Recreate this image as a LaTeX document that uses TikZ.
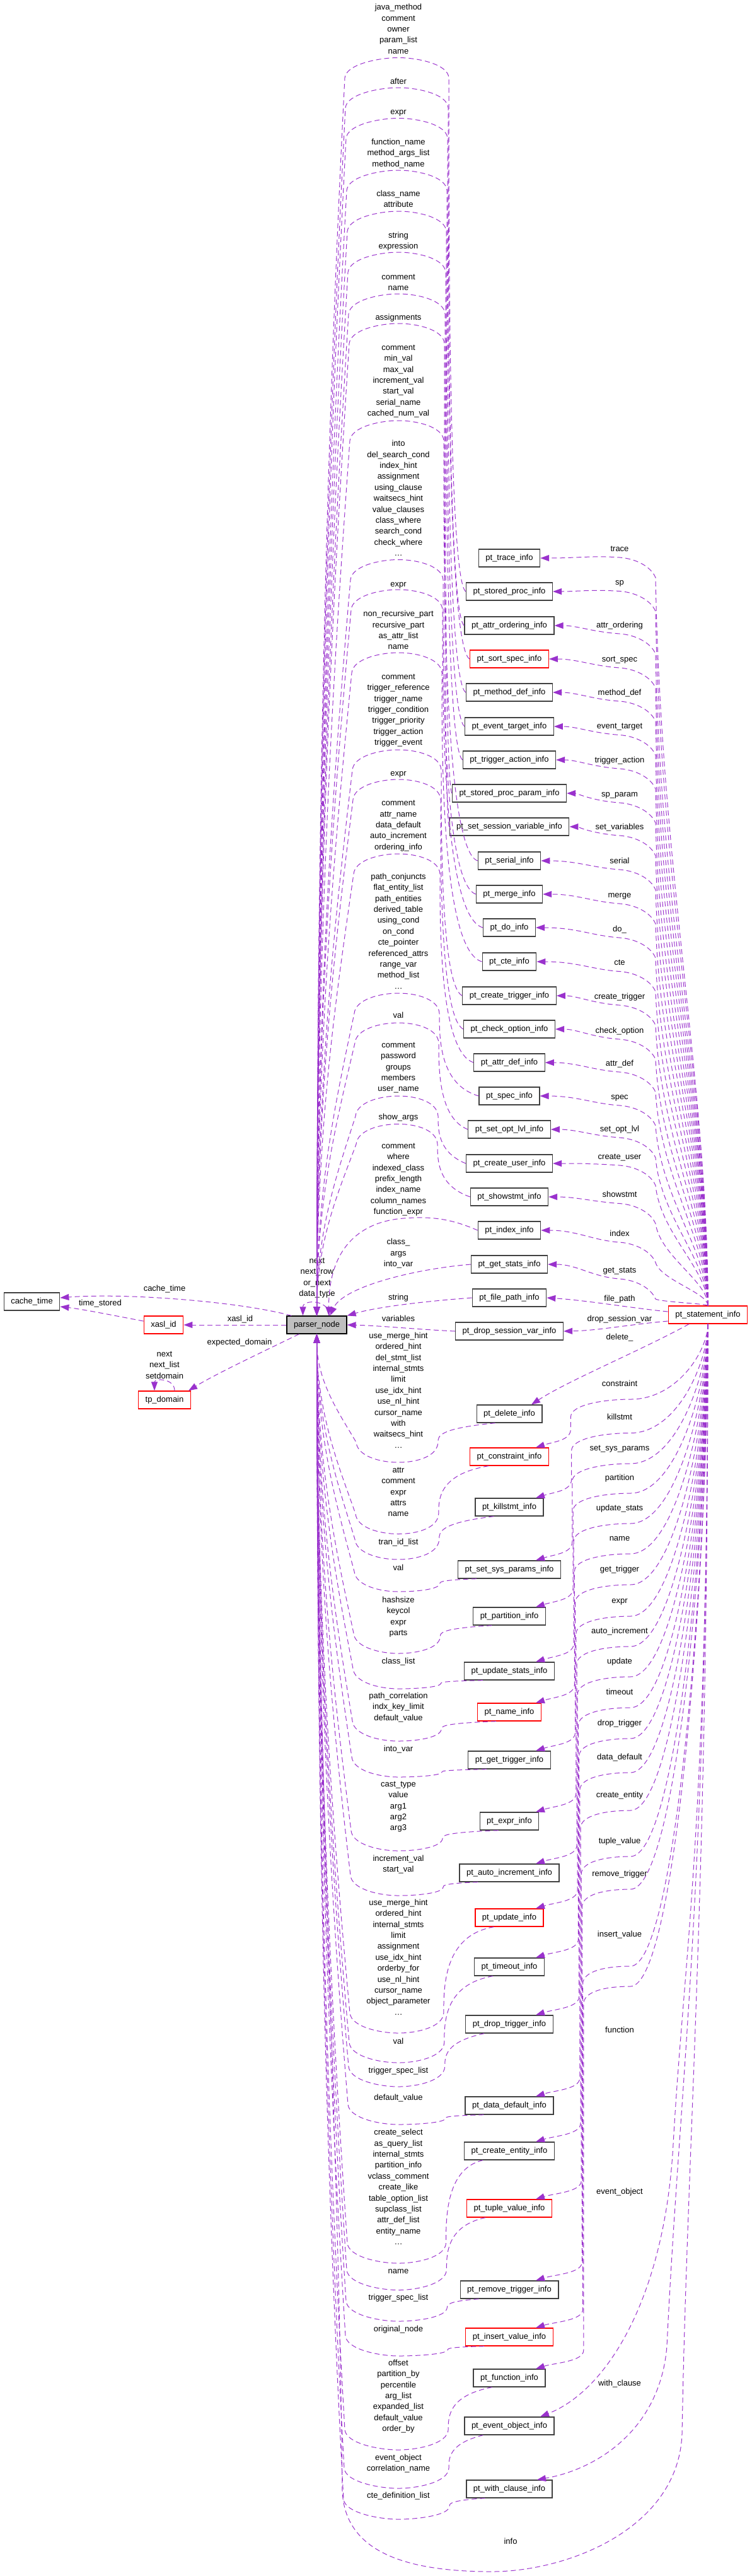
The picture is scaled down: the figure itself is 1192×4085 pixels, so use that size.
\documentclass[tikz,border=0pt]{standalone}
\usepackage{fontspec}
\setmainfont{Liberation Sans}
\usetikzlibrary{arrows.meta}
\definecolor{edgec}{HTML}{9A32CD}
\definecolor{boxline}{HTML}{404040}
\definecolor{pnfill}{HTML}{BFBFBF}

% upper-left edge: box -> arch over label group -> parser_node top
\newcommand\ULedge[4]{%
  \pgfmathsetmacro\qxR{712-(#4-1)}%
  \pgfmathsetmacro\qfx{566-(20-#4)}%
  \pgfmathsetmacro\qyF{#3+32}%
  \pgfmathsetmacro\qD{#2-\qyF}%
  \pgfmathsetmacro\qca{#2-min(18,0.3*\qD)}%
  \pgfmathsetmacro\qcb{\qyF+0.3*\qD}%
  \pgfmathsetmacro\qL{2087-\qyF}%
  \pgfmathsetmacro\qcc{\qyF+0.25*\qL}%
  \pgfmathsetmacro\qcd{\qyF+0.55*\qL}%
  \draw[edge] (#1.west) .. controls (\qxR,\qca) and (\qxR,\qcb) .. (\qxR,\qyF)
    .. controls (\qxR-1,#3+10) and (662,#3) .. (632,#3)
    .. controls (602,#3) and (\qfx+2,#3+10) .. (\qfx,\qyF)
    .. controls (\qfx-25,\qcc) and (503,\qcd) .. (pn.north);
}
% lower-left edge: box -> U under label group -> parser_node bottom
\newcommand\LLedge[4]{%
  \pgfmathsetmacro\qxR{694+0.9*#4}%
  \pgfmathsetmacro\qfx{566-#4}%
  \pgfmathsetmacro\qys{#2+14}%
  \pgfmathsetmacro\qf{min(32,max(8,0.6*(#3-\qys)))}%
  \pgfmathsetmacro\qyF{#3-\qf}%
  \pgfmathsetmacro\qD{\qyF-\qys}%
  \pgfmathsetmacro\qca{\qys+min(14,max(2,0.3*\qD))}%
  \pgfmathsetmacro\qcb{\qyF-0.3*\qD}%
  \pgfmathsetmacro\qyA{#3-32}%
  \pgfmathsetmacro\qL{\qyA-2115}%
  \pgfmathsetmacro\qcc{\qyA-0.25*\qL}%
  \pgfmathsetmacro\qcd{\qyA-0.55*\qL}%
  \pgfmathsetmacro\qcy{#3-0.3*\qf}%
  \draw[edge] ([xshift=30pt]#1.south west) .. controls (\qxR,\qca) and (\qxR,\qcb) .. (\qxR,\qyF)
    .. controls (\qxR-1,\qcy) and (662,#3) .. (632,#3)
    .. controls (602,#3) and (\qfx+2,#3-10) .. (\qfx,\qyA)
    .. controls (\qfx-25,\qcc) and (503,\qcd) .. (pn.south);
}
% upper-right edge: pt_statement_info top -> box east
\newcommand\URedge[3]{%
  \pgfmathsetmacro\qyQ{#3+45}%
  \pgfmathsetmacro\qM{2071-\qyQ}%
  \draw[edge] (stmt.north) .. controls (1123,{2071-0.3*\qM}) and (1048,{\qyQ+0.4*\qM}) .. (1040,\qyQ)
    .. controls (1033,{#3+28}) and (1010,{#3+15}) .. (983,{#3+13})
    .. controls (940,{#3+10}) and (915,#2) .. (#1.east);
}
% lower-right edge: pt_statement_info bottom -> box top
\newcommand\LRedge[4]{%
  \pgfmathsetmacro\qxd{903+1.2*#4}%
  \pgfmathsetmacro\qyT{#2-14}%
  \draw[edge] (stmt.south) .. controls (1123,{2099+0.35*(#3-2099)}) and (1075,#3) .. (1000,#3)
    .. controls (960,#3) and (\qxd,{#3+8}) .. (\qxd,{#3+28})
    -- (\qxd,{\qyT-30}) .. controls (\qxd,{\qyT-12}) and (880,{\qyT-10}) .. ([xshift=42pt]#1.north);
}
% label group in the middle column
\newcommand\LG[3]{%
  \foreach \t [count=\i] in {#3} {\node[lab] (g#1l\i) at (632,{#2+(\i-1)*17.4}) {\t};}%
}

\begin{document}
\begin{tikzpicture}[x=1pt,y=-1pt,
  every node/.style={font=\fontsize{13}{16}\selectfont},
  box/.style={draw=boxline,line width=1.3pt,fill=white,minimum height=28pt,inner xsep=11pt,inner ysep=0pt,text height=9.5pt,text depth=3pt},
  redbox/.style={box,draw=red},
  lab/.style={inner sep=0pt,text height=9.5pt,text depth=3pt},
  edge/.style={draw=edgec,line width=1pt,dash pattern=on 8pt off 5pt,-{Triangle[length=14pt,width=10pt]}}]

\fill[white] (0,0) rectangle (1192,4085);
\useasboundingbox (0,0) rectangle (1192,4085);

% ---------- nodes ----------
\node[box,fill=pnfill,draw=black] (pn) at (502.5,2101) {parser\_node};
\node[box] (ct) at (50.5,2064) {cache\_time};
\node[redbox] (xasl) at (259.5,2101) {xasl\_id};
\node[redbox] (tp) at (261,2220) {tp\_domain};
\node[redbox] (stmt) at (1123,2085) {pt\_statement\_info};

\foreach \n/\t/\y/\s in {tr/pt\_trace\_info/885/box,spi/pt\_stored\_proc\_info/938/box,ao/pt\_attr\_ordering\_info/992/box,ss/pt\_sort\_spec\_info/1045/redbox,md/pt\_method\_def\_info/1098/box,et/pt\_event\_target\_info/1152/box,ta/pt\_trigger\_action\_info/1205/box,spp/pt\_stored\_proc\_param\_info/1258/box,ssv/pt\_set\_session\_variable\_info/1311/box,ser/pt\_serial\_info/1365/box,mrg/pt\_merge\_info/1418/box,doi/pt\_do\_info/1471/box,cte/pt\_cte\_info/1525/box,ctr/pt\_create\_trigger\_info/1579/box,co/pt\_check\_option\_info/1632/box,ad/pt\_attr\_def\_info/1685/box,spec/pt\_spec\_info/1738/box,sol/pt\_set\_opt\_lvl\_info/1791/box,cu/pt\_create\_user\_info/1845/box,show/pt\_showstmt\_info/1898/box,idx/pt\_index\_info/1951/box,gs/pt\_get\_stats\_info/2005/box,fp/pt\_file\_path\_info/2058/box,dsv/pt\_drop\_session\_var\_info/2111/box,del/pt\_delete\_info/2242/box,cons/pt\_constraint\_info/2310/redbox,kill/pt\_killstmt\_info/2390/box,ssp/pt\_set\_sys\_params\_info/2489/box,part/pt\_partition\_info/2563/box,us/pt\_update\_stats\_info/2650/box,nm/pt\_name\_info/2715/redbox,gt/pt\_get\_trigger\_info/2791/box,ex/pt\_expr\_info/2888/box,ai/pt\_auto\_increment\_info/2970/box,upd/pt\_update\_info/3041/redbox,tmo/pt\_timeout\_info/3119/box,dt/pt\_drop\_trigger\_info/3210/box,dd/pt\_data\_default\_info/3339/box,ce/pt\_create\_entity\_info/3411/box,tv/pt\_tuple\_value\_info/3502/redbox,rt/pt\_remove\_trigger\_info/3631/box,iv/pt\_insert\_value\_info/3706/redbox,fn/pt\_function\_info/3771/box,eo/pt\_event\_object\_info/3847/box,wc/pt\_with\_clause\_info/3947/box}
 {\node[\s] (\n) at (808,\y) {\t};}

% ---------- middle column labels ----------
\LG{1}{12.5}{java\_method,comment,owner,param\_list,name}
\LG{2}{130.4}{after}
\LG{3}{178.6}{expr}
\LG{4}{226}{function\_name,method\_args\_list,method\_name}
\LG{5}{308}{class\_name,attribute}
\LG{6}{374}{string,expression}
\LG{7}{440}{comment,name}
\LG{8}{504.5}{assignments}
\LG{9}{552}{comment,min\_val,max\_val,increment\_val,start\_val,serial\_name,cached\_num\_val}
\LG{10}{704.5}{into,del\_search\_cond,index\_hint,assignment,using\_clause,waitsecs\_hint,value\_clauses,class\_where,search\_cond,check\_where,\ldots}
\LG{11}{927}{expr}
\LG{12}{974.5}{non\_recursive\_part,recursive\_part,as\_attr\_list,name}
\LG{13}{1074}{comment,trigger\_reference,trigger\_name,trigger\_condition,trigger\_priority,trigger\_action,trigger\_event}
\LG{14}{1227}{expr}
\LG{15}{1274.5}{comment,attr\_name,data\_default,auto\_increment,ordering\_info}
\LG{16}{1391}{path\_conjuncts,flat\_entity\_list,path\_entities,derived\_table,using\_cond,on\_cond,cte\_pointer,referenced\_attrs,range\_var,method\_list,\ldots}
\LG{17}{1611}{val}
\LG{18}{1658}{comment,password,groups,members,user\_name}
\LG{19}{1772}{show\_args}
\LG{20}{1818}{comment,where,indexed\_class,prefix\_length,index\_name,column\_names,function\_expr}
\LG{21}{1970.5}{class\_,args,into\_var}
\LG{22}{2058}{string}
\LG{23}{2092}{variables}
\LG{24}{2119}{use\_merge\_hint,ordered\_hint,del\_stmt\_list,internal\_stmts,limit,use\_idx\_hint,use\_nl\_hint,cursor\_name,with,waitsecs\_hint,\ldots}
\LG{25}{2332}{attr,comment,expr,attrs,name}
\LG{26}{2446}{tran\_id\_list}
\LG{27}{2487}{val}
\LG{28}{2538}{hashsize,keycol,expr,parts}
\LG{29}{2635}{class\_list}
\LG{30}{2690}{path\_correlation,indx\_key\_limit,default\_value}
\LG{31}{2774}{into\_var}
\LG{32}{2830}{cast\_type,value,arg1,arg2,arg3}
\LG{33}{2948}{increment\_val,start\_val}
\LG{34}{3018}{use\_merge\_hint,ordered\_hint,internal\_stmts,limit,assignment,use\_idx\_hint,orderby\_for,use\_nl\_hint,cursor\_name,object\_parameter,\ldots}
\LG{35}{3238}{val}
\LG{36}{3284}{trigger\_spec\_list}
\LG{37}{3327}{default\_value}
\LG{38}{3382.5}{create\_select,as\_query\_list,internal\_stmts,partition\_info,vclass\_comment,create\_like,table\_option\_list,supclass\_list,attr\_def\_list,entity\_name,\ldots}
\LG{39}{3602}{name}
\LG{40}{3644}{trigger\_spec\_list}
\LG{41}{3694}{original\_node}
\LG{42}{3748}{offset,partition\_by,percentile,arg\_list,expanded\_list,default\_value,order\_by}
\LG{43}{3898}{event\_object,correlation\_name}
\LG{44}{3958}{cte\_definition\_list}

% ---------- right column labels ----------
\foreach \t/\y [count=\i] in {trace/871,sp/924.5,attr\_ordering/992,sort\_spec/1046,method\_def/1099,event\_target/1152.5,trigger\_action/1206,sp\_param/1260,set\_variables/1312,serial/1366,merge/1420,do\_/1474,cte/1527.5,create\_trigger/1581,check\_option/1635,attr\_def/1687,spec/1740,set\_opt\_lvl/1791,create\_user/1835,showstmt/1895.5,index/1957,get\_stats/2015,file\_path/2060,drop\_session\_var/2092,delete\_/2121,constraint/2195,killstmt/2248.5,set\_sys\_params/2297,partition/2344,update\_stats/2392,name/2440,get\_trigger/2489,expr/2539,auto\_increment/2587,update/2635,timeout/2684,drop\_trigger/2733,data\_default/2787,create\_entity/2847,tuple\_value/2920,remove\_trigger/2972,insert\_value/3068,function/3220,event\_object/3476,with\_clause/3780}
 {\node[lab] (r\i) at (983,\y) {\t};}

% ---------- other labels ----------
\node[lab] (lct) at (261,2044) {cache\_time};
\node[lab] (lts) at (159,2067) {time\_stored};
\node[lab] (lxi) at (381,2092) {xasl\_id};
\node[lab] (led) at (380,2129) {expected\_domain};
\node[lab] (tl1) at (261,2148) {next};
\node[lab] (tl2) at (261,2165.5) {next\_list};
\node[lab] (tl3) at (261,2183) {setdomain};
\node[lab] (pl1) at (503,2000) {next};
\node[lab] (pl2) at (503,2017.5) {next\_row};
\node[lab] (pl3) at (503,2035) {or\_next};
\node[lab] (pl4) at (503,2052.5) {data\_type};
\node[lab] (linfo) at (810,4031) {info};

% ---------- upper-left edges ----------
\ULedge{spi}{938}{91.5}{1}
\ULedge{ao}{992}{139}{2}
\ULedge{ss}{1045}{187.5}{3}
\ULedge{md}{1098}{270}{4}
\ULedge{et}{1152}{335}{5}
\ULedge{ta}{1205}{400}{6}
\ULedge{spp}{1258}{466}{7}
\ULedge{ssv}{1311}{513}{8}
\ULedge{ser}{1365}{667}{9}
\ULedge{mrg}{1418}{887.5}{10}
\ULedge{doi}{1471}{935}{11}
\ULedge{cte}{1525}{1035}{12}
\ULedge{ctr}{1579}{1189}{13}
\ULedge{co}{1632}{1236}{14}
\ULedge{ad}{1685}{1354}{15}
\ULedge{spec}{1738}{1575}{16}
\ULedge{sol}{1791}{1622}{17}
\ULedge{cu}{1845}{1738}{18}
\ULedge{show}{1898}{1782.5}{19}
\draw[edge] (idx.west) .. controls (712,1931) and (680,1929) .. (640,1932) .. controls (575,1937) and (521.5,1975) .. ([xshift=19pt]pn.north);
\draw[edge] (gs.west) .. controls (660,2012) and (545,2040) .. ([xshift=21pt]pn.north);
\draw[edge] (fp.west) .. controls (680,2063) and (600,2072) .. (pn.north east);
\draw[edge] (dsv.west) .. controls (660,2108) and (600,2102) .. (pn.east);

% ---------- lower-left edges ----------
\LLedge{del}{2242}{2319}{1}
\LLedge{cons}{2310}{2432.5}{2}
\LLedge{kill}{2390}{2473}{3}
\LLedge{ssp}{2489}{2524}{4}
\LLedge{part}{2563}{2622}{5}
\LLedge{us}{2650}{2678}{6}
\LLedge{nm}{2715}{2761}{7}
\LLedge{gt}{2791}{2818}{8}
\LLedge{ex}{2888}{2935}{9}
\LLedge{ai}{2970}{3006}{10}
\LLedge{upd}{3041}{3224}{11}
\LLedge{tmo}{3119}{3271}{12}
\LLedge{dt}{3210}{3309}{13}
\LLedge{dd}{3339}{3369}{14}
\LLedge{ce}{3411}{3589}{15}
\LLedge{tv}{3502}{3631.5}{16}
\LLedge{rt}{3631}{3681}{17}
\LLedge{iv}{3706}{3736}{18}
\LLedge{fn}{3771}{3885}{19}
\LLedge{eo}{3847}{3946}{20}
\LLedge{wc}{3947}{3995}{21}

% ---------- upper-right edges ----------
\URedge{tr}{885}{871}
\URedge{spi}{938}{924.5}
\URedge{ao}{992}{992}
\URedge{ss}{1045}{1046}
\URedge{md}{1098}{1099}
\URedge{et}{1152}{1152.5}
\URedge{ta}{1205}{1206}
\URedge{spp}{1258}{1260}
\URedge{ssv}{1311}{1312}
\URedge{ser}{1365}{1366}
\URedge{mrg}{1418}{1420}
\URedge{doi}{1471}{1474}
\URedge{cte}{1525}{1527.5}
\URedge{ctr}{1579}{1581}
\URedge{co}{1632}{1635}
\URedge{ad}{1685}{1687}
\URedge{spec}{1738}{1740}
\URedge{sol}{1791}{1791}
\URedge{cu}{1845}{1835}
\URedge{show}{1898}{1895.5}
\URedge{idx}{1951}{1957}
\URedge{gs}{2005}{2015}
\draw[edge] ([yshift=5pt]stmt.west) .. controls (1000,2074) and (930,2062) .. (fp.east);
\draw[edge] ([yshift=-10pt]stmt.west) .. controls (1000,2100) and (950,2110) .. (dsv.east);

% ---------- lower-right edges ----------
\draw[edge] ([xshift=-30pt]stmt.south) .. controls (1020,2140) and (900,2190) .. ([xshift=35pt]del.north);
\LRedge{cons}{2310}{2219}{2}
\LRedge{kill}{2390}{2272.5}{3}
\LRedge{ssp}{2489}{2321}{4}
\LRedge{part}{2563}{2368}{5}
\LRedge{us}{2650}{2416}{6}
\LRedge{nm}{2715}{2464}{7}
\LRedge{gt}{2791}{2513}{8}
\LRedge{ex}{2888}{2563}{9}
\LRedge{ai}{2970}{2611}{10}
\LRedge{upd}{3041}{2659}{11}
\LRedge{tmo}{3119}{2708}{12}
\LRedge{dt}{3210}{2757}{13}
\LRedge{dd}{3339}{2811}{14}
\LRedge{ce}{3411}{2871}{15}
\LRedge{tv}{3502}{2944}{16}
\LRedge{rt}{3631}{2996}{17}
\LRedge{iv}{3706}{3118}{18}
\LRedge{fn}{3771}{3150}{19}
\draw[edge] (stmt.south) .. controls (1123,2900) and (1085,3100) .. (1068,3400) .. controls (1055,3640) and (965,3790) .. ([xshift=49pt]eo.north);
\draw[edge] (stmt.south) .. controls (1123,3000) and (1078,3300) .. (1058,3720) .. controls (1048,3850) and (950,3915) .. ([xshift=44pt]wc.north);
\draw[edge] (stmt.south) .. controls (1123,3000) and (1090,3400) .. (1082,3860) .. controls (1076,4010) and (900,4078) .. (780,4078) .. controls (640,4078) and (547,4045) .. (543,3950) .. controls (538,3400) and (503,2800) .. (pn.south);

% ---------- parser_node neighbourhood ----------
\draw[edge] ([xshift=20pt]pn.north) .. controls +(0,-26) and +(0,-26) .. ([xshift=-22pt]pn.north);
\draw[edge] ([xshift=8pt]pn.north west) .. controls (380,2064) and (200,2050) .. ([yshift=6pt]ct.east);
\draw[edge] ([yshift=6pt]xasl.west) .. controls (175,2085) and (130,2076) .. ([yshift=-8pt]ct.east);
\draw[edge] (pn.west) -- (xasl.east);
\draw[edge] ([xshift=20pt]pn.south west) .. controls (420,2142) and (340,2180) .. ([xshift=-4pt]tp.north east);
\draw[edge] ([xshift=16pt]tp.north) .. controls +(0,-20) and +(0,-20) .. ([xshift=-16pt]tp.north);
\end{tikzpicture}
\end{document}
